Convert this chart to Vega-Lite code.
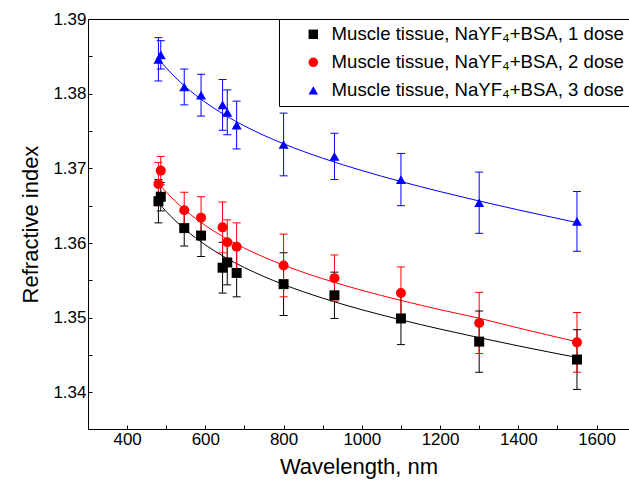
{
  "$schema": "https://vega.github.io/schema/vega-lite/v6.json",
  "width": 541,
  "height": 410,
  "autosize": "none",
  "padding": {"left": 88, "top": 19, "right": 0, "bottom": 59},
  "background": "white",
  "config": {
    "font": "Liberation Sans",
    "view": {"stroke": "black", "strokeWidth": 1},
    "axis": {
      "grid": false,
      "domainColor": "black",
      "tickColor": "black",
      "labelColor": "black",
      "titleColor": "black",
      "labelFont": "Liberation Sans",
      "titleFont": "Liberation Sans",
      "labelFontSize": 17,
      "titleFontSize": 22,
      "titleFontWeight": "normal",
      "tickSize": -4,
      "labelPadding": 6
    },
    "legend": {
      "orient": "none",
      "legendX": 191,
      "legendY": 0,
      "fillColor": "white",
      "strokeColor": "black",
      "padding": 6,
      "rowPadding": 9,
      "labelFont": "Liberation Sans",
      "labelFontSize": 18.6,
      "labelColor": "black",
      "labelLimit": 1000,
      "symbolSize": 90
    }
  },
  "datasets": {
    "pts": [
      {"s": "1", "wl": 480, "n": 1.3656, "lo": 1.3627, "hi": 1.3685},
      {"s": "1", "wl": 486, "n": 1.3662, "lo": 1.3643, "hi": 1.3681},
      {"s": "1", "wl": 546, "n": 1.3620, "lo": 1.3596, "hi": 1.3644},
      {"s": "1", "wl": 589, "n": 1.3610, "lo": 1.3582, "hi": 1.3638},
      {"s": "1", "wl": 644, "n": 1.3567, "lo": 1.3533, "hi": 1.3601},
      {"s": "1", "wl": 656, "n": 1.3574, "lo": 1.3544, "hi": 1.3604},
      {"s": "1", "wl": 680, "n": 1.3560, "lo": 1.3528, "hi": 1.3592},
      {"s": "1", "wl": 800, "n": 1.3545, "lo": 1.3503, "hi": 1.3587},
      {"s": "1", "wl": 930, "n": 1.3530, "lo": 1.3499, "hi": 1.3561},
      {"s": "1", "wl": 1100, "n": 1.3499, "lo": 1.3464, "hi": 1.3534},
      {"s": "1", "wl": 1300, "n": 1.3468, "lo": 1.3427, "hi": 1.3509},
      {"s": "1", "wl": 1550, "n": 1.3444, "lo": 1.3404, "hi": 1.3484},
      {"s": "2", "wl": 480, "n": 1.3679, "lo": 1.3650, "hi": 1.3708},
      {"s": "2", "wl": 486, "n": 1.3697, "lo": 1.3678, "hi": 1.3716},
      {"s": "2", "wl": 546, "n": 1.3644, "lo": 1.3620, "hi": 1.3668},
      {"s": "2", "wl": 589, "n": 1.3634, "lo": 1.3606, "hi": 1.3662},
      {"s": "2", "wl": 644, "n": 1.3621, "lo": 1.3587, "hi": 1.3655},
      {"s": "2", "wl": 656, "n": 1.3601, "lo": 1.3571, "hi": 1.3631},
      {"s": "2", "wl": 680, "n": 1.3595, "lo": 1.3563, "hi": 1.3627},
      {"s": "2", "wl": 800, "n": 1.3570, "lo": 1.3528, "hi": 1.3612},
      {"s": "2", "wl": 930, "n": 1.3553, "lo": 1.3522, "hi": 1.3584},
      {"s": "2", "wl": 1100, "n": 1.3533, "lo": 1.3498, "hi": 1.3568},
      {"s": "2", "wl": 1300, "n": 1.3493, "lo": 1.3452, "hi": 1.3534},
      {"s": "2", "wl": 1550, "n": 1.3467, "lo": 1.3427, "hi": 1.3507},
      {"s": "3", "wl": 480, "n": 1.3846, "lo": 1.3817, "hi": 1.3875},
      {"s": "3", "wl": 486, "n": 1.3852, "lo": 1.3833, "hi": 1.3871},
      {"s": "3", "wl": 546, "n": 1.3809, "lo": 1.3785, "hi": 1.3833},
      {"s": "3", "wl": 589, "n": 1.3798, "lo": 1.3770, "hi": 1.3826},
      {"s": "3", "wl": 644, "n": 1.3785, "lo": 1.3751, "hi": 1.3819},
      {"s": "3", "wl": 656, "n": 1.3775, "lo": 1.3745, "hi": 1.3805},
      {"s": "3", "wl": 680, "n": 1.3758, "lo": 1.3726, "hi": 1.3790},
      {"s": "3", "wl": 800, "n": 1.3732, "lo": 1.3690, "hi": 1.3774},
      {"s": "3", "wl": 930, "n": 1.3716, "lo": 1.3685, "hi": 1.3747},
      {"s": "3", "wl": 1100, "n": 1.3685, "lo": 1.3650, "hi": 1.3720},
      {"s": "3", "wl": 1300, "n": 1.3654, "lo": 1.3613, "hi": 1.3695},
      {"s": "3", "wl": 1550, "n": 1.3629, "lo": 1.3589, "hi": 1.3669}
    ],
    "fit": [
      {"s": "1", "wl": 480, "n": 1.36540},
      {"s": "1", "wl": 500, "n": 1.36422},
      {"s": "1", "wl": 525, "n": 1.36291},
      {"s": "1", "wl": 550, "n": 1.36174},
      {"s": "1", "wl": 575, "n": 1.36070},
      {"s": "1", "wl": 600, "n": 1.35975},
      {"s": "1", "wl": 650, "n": 1.35810},
      {"s": "1", "wl": 700, "n": 1.35671},
      {"s": "1", "wl": 750, "n": 1.35551},
      {"s": "1", "wl": 800, "n": 1.35444},
      {"s": "1", "wl": 900, "n": 1.35262},
      {"s": "1", "wl": 1000, "n": 1.35107},
      {"s": "1", "wl": 1100, "n": 1.34972},
      {"s": "1", "wl": 1200, "n": 1.34848},
      {"s": "1", "wl": 1300, "n": 1.34733},
      {"s": "1", "wl": 1400, "n": 1.34623},
      {"s": "1", "wl": 1550, "n": 1.34468},
      {"s": "2", "wl": 480, "n": 1.36800},
      {"s": "2", "wl": 500, "n": 1.36682},
      {"s": "2", "wl": 525, "n": 1.36551},
      {"s": "2", "wl": 550, "n": 1.36434},
      {"s": "2", "wl": 575, "n": 1.36330},
      {"s": "2", "wl": 600, "n": 1.36235},
      {"s": "2", "wl": 650, "n": 1.36070},
      {"s": "2", "wl": 700, "n": 1.35931},
      {"s": "2", "wl": 750, "n": 1.35811},
      {"s": "2", "wl": 800, "n": 1.35704},
      {"s": "2", "wl": 900, "n": 1.35522},
      {"s": "2", "wl": 1000, "n": 1.35367},
      {"s": "2", "wl": 1100, "n": 1.35232},
      {"s": "2", "wl": 1200, "n": 1.35108},
      {"s": "2", "wl": 1300, "n": 1.34993},
      {"s": "2", "wl": 1400, "n": 1.34863},
      {"s": "2", "wl": 1550, "n": 1.34678},
      {"s": "3", "wl": 480, "n": 1.38466},
      {"s": "3", "wl": 500, "n": 1.38345},
      {"s": "3", "wl": 525, "n": 1.38210},
      {"s": "3", "wl": 550, "n": 1.38089},
      {"s": "3", "wl": 575, "n": 1.37981},
      {"s": "3", "wl": 600, "n": 1.37884},
      {"s": "3", "wl": 650, "n": 1.37713},
      {"s": "3", "wl": 700, "n": 1.37568},
      {"s": "3", "wl": 750, "n": 1.37441},
      {"s": "3", "wl": 800, "n": 1.37329},
      {"s": "3", "wl": 900, "n": 1.37136},
      {"s": "3", "wl": 1000, "n": 1.36971},
      {"s": "3", "wl": 1100, "n": 1.36824},
      {"s": "3", "wl": 1200, "n": 1.36689},
      {"s": "3", "wl": 1300, "n": 1.36563},
      {"s": "3", "wl": 1400, "n": 1.36444},
      {"s": "3", "wl": 1550, "n": 1.36273}
    ]
  },
  "layer": [
    {
      "data": {"name": "fit"},
      "mark": {"type": "line", "strokeWidth": 1, "interpolate": "monotone"},
      "encoding": {
        "x": {
          "field": "wl", "type": "quantitative",
          "scale": {"domain": [300, 1683], "nice": false, "zero": false},
          "axis": {
            "title": "Wavelength, nm",
            "values": [400, 500, 600, 700, 800, 900, 1000, 1100, 1200, 1300, 1400, 1500, 1600],
            "format": "d",
            "labelExpr": "datum.value % 200 == 0 ? datum.label : ''",
            "titlePadding": 9
          }
        },
        "y": {
          "field": "n", "type": "quantitative",
          "scale": {"domain": [1.3351, 1.39], "nice": false, "zero": false},
          "axis": {
            "title": "Refractive index",
            "values": [1.34, 1.345, 1.35, 1.355, 1.36, 1.365, 1.37, 1.375, 1.38, 1.385, 1.39],
            "labelExpr": "abs(datum.value * 100 - round(datum.value * 100)) < 0.01 ? format(datum.value, '.2f') : ''",
            "titlePadding": 10
          }
        },
        "stroke": {
          "field": "s", "type": "nominal",
          "scale": {"domain": ["1", "2", "3"], "range": ["#000000", "#ff0000", "#0000ff"]},
          "legend": null
        }
      }
    },
    {
      "data": {"name": "pts"},
      "mark": {"type": "rule", "strokeWidth": 1},
      "encoding": {
        "x": {"field": "wl", "type": "quantitative"},
        "y": {"field": "lo", "type": "quantitative"},
        "y2": {"field": "hi"},
        "stroke": {"field": "s", "type": "nominal", "legend": null}
      }
    },
    {
      "data": {"name": "pts"},
      "mark": {"type": "rule", "strokeWidth": 1, "xOffset": -4, "x2Offset": 4},
      "encoding": {
        "x": {"field": "wl", "type": "quantitative"},
        "x2": {"field": "wl"},
        "y": {"field": "lo", "type": "quantitative"},
        "stroke": {"field": "s", "type": "nominal", "legend": null}
      }
    },
    {
      "data": {"name": "pts"},
      "mark": {"type": "rule", "strokeWidth": 1, "xOffset": -4, "x2Offset": 4},
      "encoding": {
        "x": {"field": "wl", "type": "quantitative"},
        "x2": {"field": "wl"},
        "y": {"field": "hi", "type": "quantitative"},
        "stroke": {"field": "s", "type": "nominal", "legend": null}
      }
    },
    {
      "data": {"name": "pts"},
      "mark": {"type": "point", "filled": true, "size": 100, "opacity": 1},
      "encoding": {
        "x": {"field": "wl", "type": "quantitative"},
        "y": {"field": "n", "type": "quantitative"},
        "color": {
          "field": "s", "type": "nominal",
          "scale": {"range": ["#000000", "#ff0000", "#0000ff"]},
          "legend": {
            "title": " ",
            "titleOrient": "left",
            "titleFontSize": 1,
            "titlePadding": 19,
            "symbolOffset": 0,
            "labelOffset": 9,
            "labelExpr": "'Muscle tissue, NaYF₄+BSA, ' + datum.label + ' dose'"
          }
        },
        "shape": {
          "field": "s", "type": "nominal",
          "scale": {"range": ["square", "circle", "triangle-up"]},
          "legend": {
            "title": " ",
            "titleOrient": "left",
            "titleFontSize": 1,
            "titlePadding": 19,
            "symbolOffset": 0,
            "labelOffset": 9,
            "labelExpr": "'Muscle tissue, NaYF₄+BSA, ' + datum.label + ' dose'"
          }
        }
      }
    }
  ]
}
